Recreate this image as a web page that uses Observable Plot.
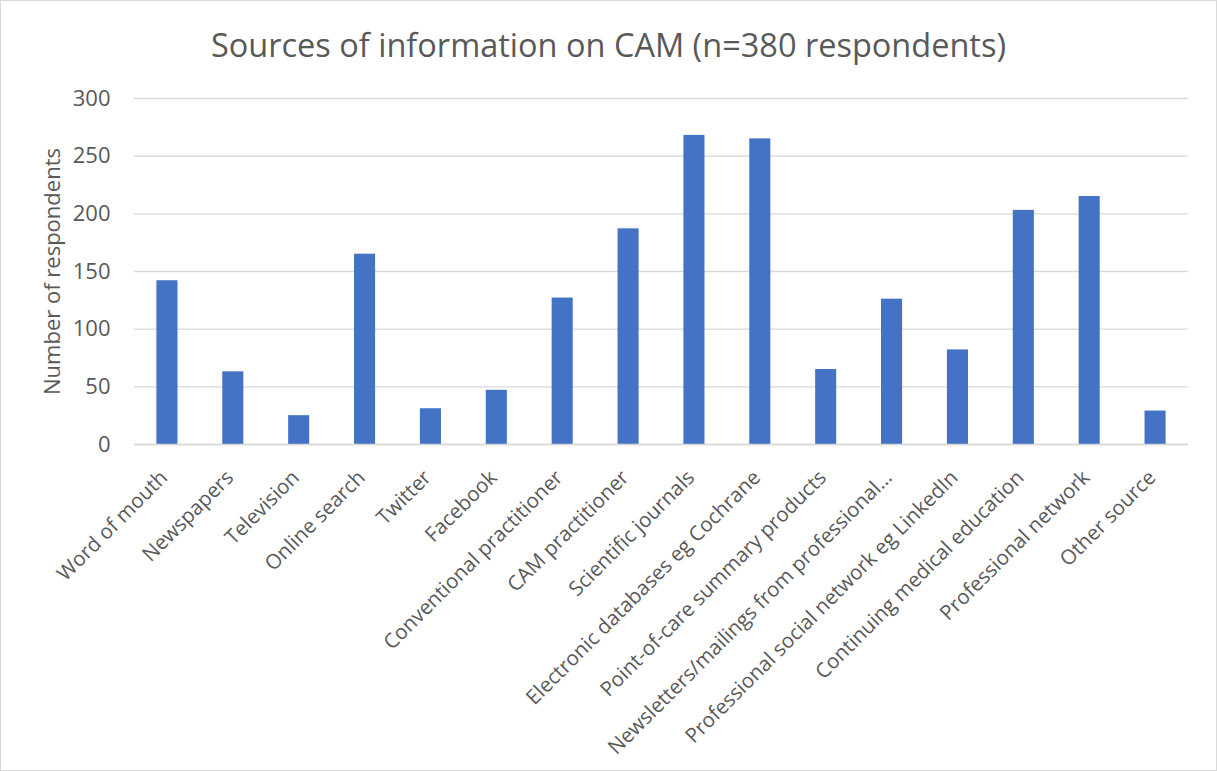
<!DOCTYPE html>
<html>
<head>
<meta charset="utf-8">
<script src="https://cdn.jsdelivr.net/npm/d3@7"></script>
<script src="https://cdn.jsdelivr.net/npm/@observablehq/plot@0.6"></script>
<style>
  html, body { margin: 0; padding: 0; background: #fff; }
  #chart { position: relative; width: 1217px; height: 771px; overflow: hidden; background: #fff; }
  #frame { position: absolute; left: 0; top: 0; width: 1217px; height: 771px; box-sizing: border-box; border: 1.5px solid #d9d9d9; pointer-events: none; }
  #title { height: 75px; line-height: 90px; text-align: center; font-family: "Open Sans", sans-serif; font-size: 32.5px; color: #595959; white-space: nowrap; }
  svg { display: block; }
</style>
</head>
<body>
<div id="chart">
  <div id="title">Sources of information on CAM (n=380 respondents)</div>
  <div id="plot"></div>
  <div id="frame"></div>
</div>
<script>
const categories = [
  "Word of mouth",
  "Newspapers",
  "Television",
  "Online search",
  "Twitter",
  "Facebook",
  "Conventional practitioner",
  "CAM practitioner",
  "Scientific journals",
  "Electronic databases eg Cochrane",
  "Point-of-care summary products",
  "Newsletters/mailings from professional…",
  "Professional social network eg LinkedIn",
  "Continuing medical education",
  "Professional network",
  "Other source"
];
const respondents = [142, 63, 25, 165, 31, 47, 127, 187, 268, 265, 65, 126, 82, 203, 215, 29];
const yTicks = [0, 50, 100, 150, 200, 250, 300];
const yLabel = "Number of respondents";

const data = categories.map((c, i) => ({category: c, value: respondents[i]}));

const chart = Plot.plot({
  width: 1217,
  height: 696,
  marginTop: 23,
  marginBottom: 327,
  marginLeft: 134,
  marginRight: 29,
  style: {fontFamily: "Open Sans, sans-serif", fontSize: "22px", color: "#595959", background: "#fff"},
  x: {domain: categories, paddingInner: 0.68, paddingOuter: 0.34, round: false, label: null},
  y: {domain: [0, 300], label: null},
  marks: [
    Plot.gridY(yTicks, {stroke: "#d9d9d9", strokeOpacity: 1, strokeWidth: 1.3}),
    Plot.barY(data, {x: "category", y: "value", fill: "#4472C4"}),
    Plot.ruleY([0], {stroke: "#d9d9d9", strokeWidth: 1.5}),
    Plot.axisY(yTicks, {tickSize: 0, tickPadding: 24, fontSize: 22, fill: "#595959", label: null}),
    Plot.axisX({tickSize: 0, tickPadding: 24, tickRotate: -45, lineAnchor: "top", textAnchor: "end", dx: -9, fontSize: 20.5, fill: "#595959", label: null}),
    Plot.text([yLabel], {frameAnchor: "left", textAnchor: "middle", dx: -82, rotate: -90, fontSize: 22, fill: "#595959"})
  ]
});
document.getElementById("plot").appendChild(chart);
</script>
</body>
</html>
